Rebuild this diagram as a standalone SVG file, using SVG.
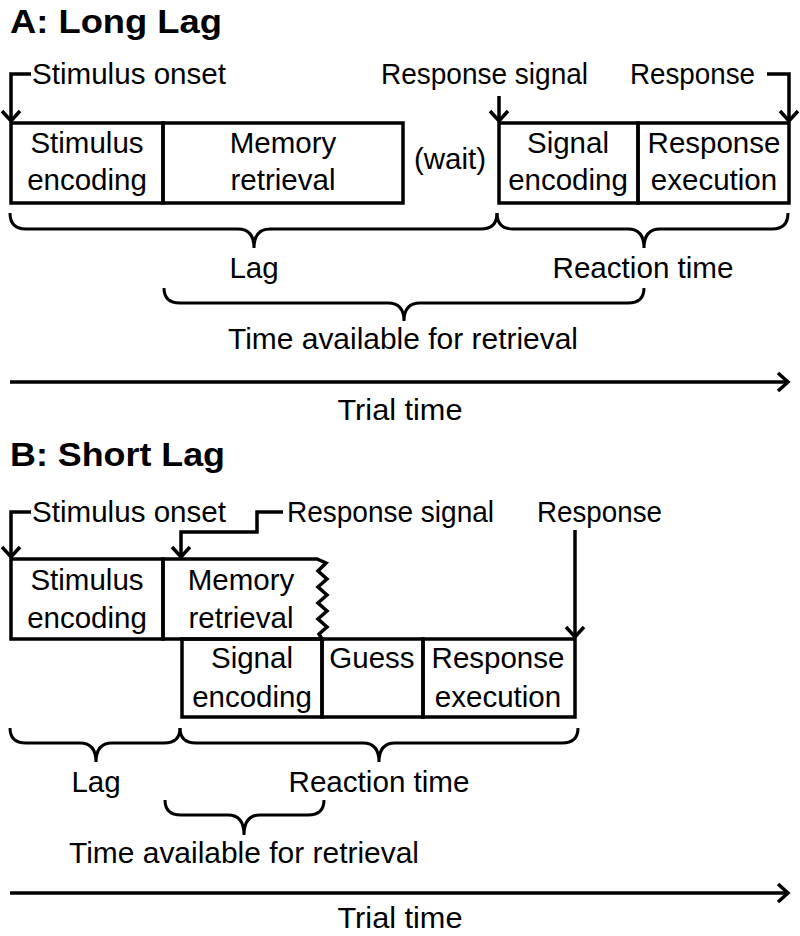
<svg xmlns="http://www.w3.org/2000/svg" width="800" height="936" viewBox="0 0 800 936">
<style>
text{font-family:"Liberation Sans",Arial,sans-serif;font-size:29.5px;fill:#000}
.t{font-size:33px;font-weight:bold}
.m{text-anchor:middle}
.box{fill:none;stroke:#000;stroke-width:3.5;stroke-linejoin:miter}
.ln{fill:none;stroke:#000;stroke-width:3.5}
.br{fill:none;stroke:#000;stroke-width:3}
</style>
<defs>
<marker id="ah" markerUnits="userSpaceOnUse" markerWidth="24" markerHeight="24" refX="12" refY="12" orient="auto" viewBox="0 0 24 24">
<path d="M2,3 L12,12 L2,21" fill="none" stroke="#000" stroke-width="3.5" stroke-linejoin="miter"/>
</marker>
</defs>
<rect width="800" height="936" fill="#fff"/>

<g id="titleA"><text class="t" x="10" y="33" textLength="212" lengthAdjust="spacingAndGlyphs">A: Long Lag</text></g>
<g id="titleB"><text class="t" x="10" y="466" textLength="215" lengthAdjust="spacingAndGlyphs">B: Short Lag</text></g>

<g id="A-labels">
<text x="32" y="84" textLength="194" lengthAdjust="spacingAndGlyphs">Stimulus onset</text>
<text x="381" y="84" textLength="207" lengthAdjust="spacingAndGlyphs">Response signal</text>
<text x="630" y="84" textLength="125" lengthAdjust="spacingAndGlyphs">Response</text>
<text class="m" x="450" y="169">(wait)</text>
</g>

<g id="A-box-stim">
<rect class="box" x="11" y="123" width="152" height="80"/>
<text class="m" x="87" y="153">Stimulus</text>
<text class="m" x="87" y="190">encoding</text>
</g>
<g id="A-box-mem">
<rect class="box" x="163" y="123" width="240" height="80"/>
<text class="m" x="283" y="153">Memory</text>
<text class="m" x="283" y="190">retrieval</text>
</g>
<g id="A-box-sig">
<rect class="box" x="499" y="123" width="139" height="80"/>
<text class="m" x="568" y="153">Signal</text>
<text class="m" x="568" y="190">encoding</text>
</g>
<g id="A-box-resp">
<rect class="box" x="638" y="123" width="151" height="80"/>
<text class="m" x="714" y="153">Response</text>
<text class="m" x="714" y="190">execution</text>
</g>

<g id="A-braces">
<path class="br" d="M10,213 Q10,229 26,229 L238,229 Q254,229 254,248 Q254,229 270,229 L481,229 Q497,229 497,213"/>
<path class="br" d="M497,213 Q497,229 513,229 L628,229 Q644,229 644,248 Q644,229 660,229 L772,229 Q788,229 788,213"/>
<text class="m" x="254" y="278">Lag</text>
<text class="m" x="643" y="278" textLength="181" lengthAdjust="spacingAndGlyphs">Reaction time</text>
<path class="br" d="M164,288 Q164,303 180,303 L388,303 Q404,303 404,321 Q404,303 420,303 L628,303 Q644,303 644,288"/>
<text class="m" x="403" y="349" textLength="350" lengthAdjust="spacingAndGlyphs">Time available for retrieval</text>
<text class="m" x="400" y="420" textLength="125" lengthAdjust="spacingAndGlyphs">Trial time</text>
</g>

<g id="B-labels">
<text x="32" y="522" textLength="194" lengthAdjust="spacingAndGlyphs">Stimulus onset</text>
<text x="287" y="522" textLength="207" lengthAdjust="spacingAndGlyphs">Response signal</text>
<text x="537" y="522" textLength="125" lengthAdjust="spacingAndGlyphs">Response</text>
</g>

<g id="B-box-stim">
<path class="box" d="M163,559 H11 V639 H163 Z"/>
<text class="m" x="87" y="590">Stimulus</text>
<text class="m" x="87" y="628">encoding</text>
</g>
<g id="B-box-mem">
<path class="box" d="M163,559 H317 L326,563 L318,571 L327,579 L318,587 L327,595 L318,603 L327,611 L318,619 L327,627 L319,634 L322,639 H163 Z"/>
<text class="m" x="241" y="590">Memory</text>
<text class="m" x="241" y="628">retrieval</text>
</g>
<g id="B-box-sig">
<rect class="box" x="182" y="639" width="140" height="78"/>
<text class="m" x="252" y="668">Signal</text>
<text class="m" x="252" y="707">encoding</text>
</g>
<g id="B-box-guess">
<rect class="box" x="322" y="639" width="101" height="78"/>
<text class="m" x="372" y="668">Guess</text>
</g>
<g id="B-box-resp">
<rect class="box" x="423" y="639" width="152" height="78"/>
<text class="m" x="498" y="668">Response</text>
<text class="m" x="498" y="707">execution</text>
</g>

<g id="B-braces">
<path class="br" d="M10,728 Q10,743 26,743 L80,743 Q96,743 96,762 Q96,743 112,743 L164,743 Q180,743 180,728"/>
<path class="br" d="M180,728 Q180,743 196,743 L363,743 Q379,743 379,762 Q379,743 395,743 L562,743 Q578,743 578,728"/>
<text class="m" x="96" y="792">Lag</text>
<text class="m" x="379" y="792" textLength="181" lengthAdjust="spacingAndGlyphs">Reaction time</text>
<path class="br" d="M165,800 Q165,815 181,815 L228,815 Q244,815 244,835 Q244,815 260,815 L308,815 Q324,815 324,800"/>
<text class="m" x="244" y="863" textLength="350" lengthAdjust="spacingAndGlyphs">Time available for retrieval</text>
<text class="m" x="400" y="928" textLength="125" lengthAdjust="spacingAndGlyphs">Trial time</text>
</g>

<g id="connectors">
<path class="ln" d="M31,74 H11 V121" marker-end="url(#ah)"/>
<path class="ln" d="M499,96 V121" marker-end="url(#ah)"/>
<path class="ln" d="M767,74 H789 V121" marker-end="url(#ah)"/>
<path class="ln" d="M10,382 H788" marker-end="url(#ah)"/>
<path class="ln" d="M31,512 H11 V557" marker-end="url(#ah)"/>
<path class="ln" d="M283,512 H257 V532 H181 V557" marker-end="url(#ah)"/>
<path class="ln" d="M575,530 V637" marker-end="url(#ah)"/>
<path class="ln" d="M10,893 H788" marker-end="url(#ah)"/>
</g>
</svg>
